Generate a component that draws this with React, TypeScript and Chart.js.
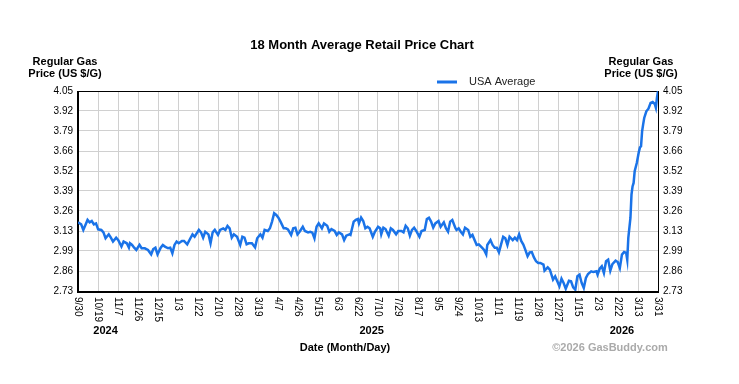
import React, { useEffect, useRef } from "react";
import { Chart, registerables } from "chart.js";

Chart.register(...registerables);

const FONT = "'Liberation Sans', Arial, Helvetica, sans-serif";

const chartTitle = "18 Month Average Retail Price Chart";
const seriesName = "USA Average";
const yAxisTitle = ["Regular Gas", "Price (US $/G)"];
const xAxisTitle = "Date (Month/Day)";
const creditText = "©2026 GasBuddy.com";

// day offsets are counted from 9/30/2024
const totalDays = 547;

const xTickLabels = [
  "9/30", "10/19", "11/7", "11/26", "12/15", "1/3", "1/22", "2/10", "2/28", "3/19",
  "4/7", "4/26", "5/15", "6/3", "6/22", "7/10", "7/29", "8/17", "9/5", "9/24",
  "10/13", "11/1", "11/19", "12/8", "12/27", "1/15", "2/3", "2/22", "3/13", "3/31",
];

const yearLabels = ["2024", "2025", "2026"];
const yearLabelDays = [26, 277, 513];

const yMin = 2.73;
const yMax = 4.05;
const yTickValues = [2.73, 2.862, 2.994, 3.126, 3.258, 3.39, 3.522, 3.654, 3.786, 3.918, 4.05];
const yTickLabels = ["2.73", "2.86", "2.99", "3.13", "3.26", "3.39", "3.52", "3.66", "3.79", "3.92", "4.05"];

const priceDays = [
  0, 3, 5, 7, 9, 11, 13, 15, 17, 19, 22, 24, 26, 29, 31, 33, 36, 38, 41, 43,
  46, 48, 49, 51, 53, 55, 58, 60, 63, 66, 69, 71, 73, 75, 78, 80, 82, 85, 87, 89,
  91, 93, 95, 98, 100, 103, 106, 108, 110, 114, 116, 118, 120, 123, 125, 127, 129, 132, 134, 137,
  139, 141, 143, 145, 147, 150, 153, 155, 157, 159, 161, 164, 167, 169, 172, 174, 176, 179, 181, 183,
  185, 187, 189, 191, 194, 196, 198, 201, 203, 205, 207, 209, 212, 214, 217, 219, 221, 223, 225, 227,
  230, 232, 235, 237, 239, 242, 244, 246, 249, 251, 253, 256, 257, 260, 262, 264, 265, 267, 269, 271,
  273, 275, 278, 280, 283, 285, 286, 288, 290, 293, 295, 297, 300, 302, 305, 307, 309, 311, 313, 315,
  317, 319, 322, 324, 327, 329, 331, 333, 335, 337, 340, 342, 345, 347, 349, 351, 353, 356, 357, 359,
  361, 363, 365, 368, 370, 372, 374, 376, 378, 381, 383, 385, 386, 389, 391, 393, 395, 397, 399, 401,
  403, 405, 407, 410, 412, 414, 416, 418, 420, 422, 424, 426, 428, 430, 432, 434, 436, 439, 440, 443,
  445, 448, 450, 452, 454, 456, 458, 460, 463, 465, 467, 469, 471, 473, 475, 477, 479, 481, 484, 486,
  489, 490, 492, 494, 496, 498, 500, 502, 504, 507, 509, 511, 513, 515, 517, 518, 519, 521, 522, 523,
  524, 525, 527, 529, 530, 531, 532, 533, 534, 536, 538, 540, 542, 544, 545, 546, 547,
];

const priceValues = [
  3.183, 3.170, 3.133, 3.166, 3.199, 3.183, 3.192, 3.170, 3.176, 3.137, 3.133, 3.117, 3.078, 3.104, 3.082, 3.056, 3.082, 3.066, 3.023, 3.056,
  3.045, 3.016, 3.045, 3.034, 3.016, 3.001, 3.034, 3.012, 3.012, 3.001, 2.972, 3.007, 3.016, 2.972, 3.016, 3.034, 3.023, 3.012, 3.016, 2.979,
  3.034, 3.056, 3.045, 3.060, 3.060, 3.038, 3.078, 3.104, 3.088, 3.133, 3.117, 3.082, 3.121, 3.104, 3.045, 3.117, 3.133, 3.100, 3.133, 3.143,
  3.133, 3.159, 3.144, 3.082, 3.104, 3.088, 3.034, 3.088, 3.082, 3.038, 3.045, 3.045, 3.018, 3.078, 3.104, 3.082, 3.133, 3.126, 3.144, 3.188,
  3.243, 3.232, 3.214, 3.188, 3.144, 3.144, 3.137, 3.100, 3.144, 3.148, 3.104, 3.121, 3.154, 3.126, 3.117, 3.121, 3.115, 3.078, 3.154, 3.176,
  3.144, 3.176, 3.161, 3.121, 3.139, 3.126, 3.100, 3.117, 3.104, 3.066, 3.095, 3.104, 3.100, 3.188, 3.199, 3.205, 3.176, 3.214, 3.192, 3.144,
  3.154, 3.144, 3.088, 3.121, 3.154, 3.144, 3.104, 3.148, 3.139, 3.095, 3.144, 3.133, 3.104, 3.126, 3.126, 3.117, 3.161, 3.144, 3.095, 3.133,
  3.148, 3.126, 3.088, 3.126, 3.133, 3.205, 3.214, 3.188, 3.148, 3.176, 3.192, 3.154, 3.183, 3.144, 3.121, 3.188, 3.199, 3.144, 3.133, 3.144,
  3.121, 3.104, 3.148, 3.133, 3.088, 3.100, 3.066, 3.034, 3.038, 3.016, 3.001, 2.972, 3.034, 3.066, 3.034, 3.016, 3.016, 2.985, 3.038, 3.088,
  3.078, 3.034, 3.088, 3.066, 3.082, 3.066, 3.104, 3.060, 3.036, 3.000, 2.960, 2.985, 2.987, 2.952, 2.926, 2.915, 2.915, 2.904, 2.864, 2.886,
  2.871, 2.805, 2.827, 2.794, 2.761, 2.811, 2.783, 2.745, 2.798, 2.794, 2.754, 2.739, 2.827, 2.838, 2.783, 2.750, 2.816, 2.842, 2.860, 2.855,
  2.860, 2.838, 2.877, 2.893, 2.849, 2.926, 2.937, 2.864, 2.908, 2.930, 2.921, 2.882, 2.970, 2.987, 2.981, 2.937, 3.080, 3.212, 3.366, 3.420,
  3.443, 3.520, 3.575, 3.650, 3.678, 3.685, 3.784, 3.830, 3.872, 3.916, 3.933, 3.971, 3.977, 3.964, 3.940, 4.004, 4.048,
];

const LINE_COLOR = "#1a73e8";
const GRID_COLOR = "#d0d0d0";

const xTickDay = (i: number) => (i * totalDays) / (xTickLabels.length - 1);

const decorPlugin = {
  id: "decor",
  beforeDatasetsDraw(chart: any) {
    const { ctx, chartArea } = chart;
    const { left, right, top, bottom } = chartArea;
    ctx.save();
    ctx.strokeStyle = "#000";
    ctx.lineWidth = 1;
    ctx.beginPath();
    ctx.moveTo(left, top + 0.5);
    ctx.lineTo(right, top + 0.5);
    ctx.moveTo(right + 0.5, top);
    ctx.lineTo(right + 0.5, bottom);
    ctx.stroke();
    ctx.lineWidth = 2;
    ctx.beginPath();
    ctx.moveTo(left, top);
    ctx.lineTo(left, bottom + 1);
    ctx.lineTo(right + 1, bottom + 1);
    ctx.stroke();
    ctx.restore();
  },
  afterDraw(chart: any) {
    const { ctx, chartArea } = chart;
    const xScale = chart.scales.x;
    ctx.save();
    ctx.fillStyle = "#000";

    // title
    ctx.font = `bold 13px ${FONT}`;
    ctx.textAlign = "center";
    ctx.textBaseline = "middle";
    ctx.fillText(chartTitle, 362, 45);

    // axis titles
    ctx.font = `bold 11px ${FONT}`;
    yAxisTitle.forEach((line, i) => {
      ctx.fillText(line, 65, 62 + i * 12);
      ctx.fillText(line, 641, 62 + i * 12);
    });

    // legend
    ctx.strokeStyle = LINE_COLOR;
    ctx.lineWidth = 3;
    ctx.beginPath();
    ctx.moveTo(437, 82);
    ctx.lineTo(457, 82);
    ctx.stroke();
    ctx.font = `11px ${FONT}`;
    ctx.fillStyle = "#222";
    ctx.textAlign = "left";
    ctx.fillText(seriesName, 469, 82);

    // x tick labels (rotated clockwise)
    ctx.fillStyle = "#000";
    ctx.font = `10px ${FONT}`;
    xTickLabels.forEach((lab, i) => {
      const x = xScale.getPixelForValue(xTickDay(i));
      ctx.save();
      ctx.translate(x, chartArea.bottom + 6);
      ctx.rotate(Math.PI / 2);
      ctx.textAlign = "left";
      ctx.textBaseline = "middle";
      ctx.fillText(lab, 0, 0);
      ctx.restore();
    });

    // year labels
    ctx.font = `bold 11px ${FONT}`;
    ctx.textAlign = "center";
    yearLabels.forEach((yl, i) => {
      ctx.fillText(yl, xScale.getPixelForValue(yearLabelDays[i]), 331);
    });

    // x axis title
    ctx.fillText(xAxisTitle, 345, 348);

    // credit
    ctx.fillStyle = "#aaaaaa";
    ctx.fillText(creditText, 610, 348);
    ctx.restore();
  },
};

export default function App() {
  const canvasRef = useRef<HTMLCanvasElement | null>(null);

  useEffect(() => {
    document.body.style.margin = "0";
    const canvas = canvasRef.current;
    if (!canvas) return;

    const yScaleBase = (side: "left" | "right", width: number, showGrid: boolean) => ({
      type: "linear" as const,
      position: side,
      min: yMin,
      max: yMax,
      afterBuildTicks: (s: any) => {
        s.ticks = yTickValues.map((v) => ({ value: v }));
      },
      afterFit: (s: any) => {
        s.width = width;
      },
      grid: {
        display: true,
        drawOnChartArea: showGrid,
        color: GRID_COLOR,
        lineWidth: 1,
        drawTicks: false,
      },
      border: { display: false },
      ticks: {
        autoSkip: false,
        padding: 5,
        color: "#000",
        font: { family: FONT, size: 10 },
        callback: (_v: any, i: number) => yTickLabels[i],
      },
    });

    const chart = new Chart(canvas, {
      type: "line",
      data: {
        datasets: [
          {
            label: seriesName,
            data: priceDays.map((d, i) => ({ x: d, y: priceValues[i] })),
            borderColor: LINE_COLOR,
            borderWidth: 2.5,
            pointRadius: 0,
            tension: 0,
            fill: false,
          },
        ],
      },
      options: {
        responsive: false,
        animation: false,
        devicePixelRatio: 1,
        layout: { padding: { top: 91, left: 0, right: 0, bottom: 0 } },
        plugins: {
          legend: { display: false },
          title: { display: false },
          tooltip: { enabled: false },
        },
        scales: {
          x: {
            type: "linear",
            min: 0,
            max: totalDays,
            afterBuildTicks: (s: any) => {
              s.ticks = xTickLabels.map((_l, i) => ({ value: xTickDay(i) }));
            },
            afterFit: (s: any) => {
              s.height = 93;
            },
            grid: { color: GRID_COLOR, lineWidth: 1, drawTicks: false },
            border: { display: false },
            ticks: { display: false },
          },
          y: yScaleBase("left", 78, true) as any,
          y2: yScaleBase("right", 81, false) as any,
        },
      },
      plugins: [decorPlugin],
    });

    return () => chart.destroy();
  }, []);

  return (
    <div style={{ width: 739, height: 384, background: "#fff" }}>
      <canvas ref={canvasRef} width={739} height={384} style={{ display: "block" }} />
    </div>
  );
}
